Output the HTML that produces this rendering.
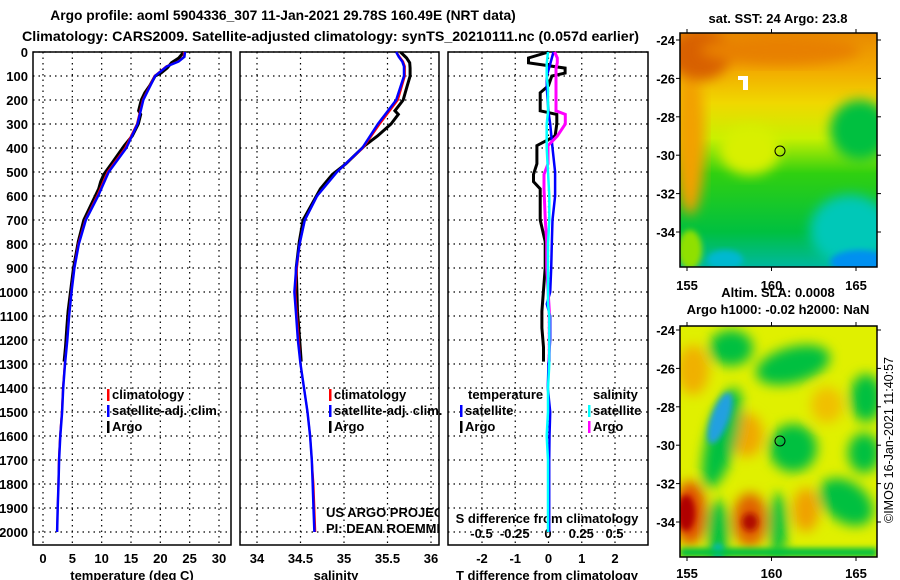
<!DOCTYPE html>
<html><head><meta charset="utf-8"><style>
body{margin:0;background:#fff;}
svg{display:block;font-family:"Liberation Sans",sans-serif;}
.b{font-weight:bold;font-size:13.8px;}
.t{font-weight:bold;font-size:13px;}
</style></head><body>
<svg id="s" width="900" height="580" viewBox="0 0 900 580">
<defs>
<filter id="blur" x="-20%" y="-20%" width="140%" height="140%"><feGaussianBlur stdDeviation="6"/></filter>
<filter id="blur2" x="-20%" y="-20%" width="140%" height="140%"><feGaussianBlur stdDeviation="3"/></filter>
<clipPath id="c1"><rect x="680" y="33" width="197" height="234"/></clipPath>
<clipPath id="c2"><rect x="680" y="326" width="197" height="231"/></clipPath>
<clipPath id="cp2"><rect x="240" y="52" width="199" height="493"/></clipPath>
<linearGradient id="sstg" x1="0" y1="0" x2="0" y2="1">
<stop offset="0" stop-color="#e88a00"/><stop offset="0.15" stop-color="#f2a800"/><stop offset="0.3" stop-color="#f0d800"/><stop offset="0.45" stop-color="#c8f000"/><stop offset="0.6" stop-color="#30d010"/><stop offset="0.85" stop-color="#00c040"/><stop offset="1" stop-color="#00b8a0"/>
</linearGradient>
</defs>
<text class="b" x="283" y="20" text-anchor="middle">Argo profile: aoml 5904336_307 11-Jan-2021 29.78S 160.49E (NRT data)</text>
<text class="b" x="22" y="41" textLength="617" lengthAdjust="spacingAndGlyphs">Climatology: CARS2009. Satellite-adjusted climatology: synTS_20210111.nc (0.057d earlier)</text>
<g id="plots"></g>

<!-- SST map -->
<g clip-path="url(#c1)">
<rect x="680" y="33" width="197" height="234" fill="url(#sstg)"/>
<ellipse cx="690" cy="140" rx="15" ry="75" fill="#f2a000" filter="url(#blur)"/>
<ellipse cx="700" cy="55" rx="30" ry="25" fill="#d86000" filter="url(#blur)"/>
<ellipse cx="780" cy="50" rx="80" ry="15" fill="#e88000" filter="url(#blur)"/>
<ellipse cx="750" cy="150" rx="30" ry="25" fill="#d8f000" filter="url(#blur)"/>
<ellipse cx="860" cy="130" rx="30" ry="30" fill="#00c040" filter="url(#blur)"/>
<ellipse cx="850" cy="230" rx="40" ry="35" fill="#00c8b8" filter="url(#blur)"/>
<ellipse cx="860" cy="262" rx="30" ry="12" fill="#0090f0" filter="url(#blur2)"/>
<ellipse cx="725" cy="260" rx="18" ry="10" fill="#00b8d0" filter="url(#blur2)"/>
<ellipse cx="690" cy="250" rx="12" ry="20" fill="#90e000" filter="url(#blur2)"/>
<rect x="738" y="76" width="10" height="4" fill="#fff"/><rect x="743" y="76" width="5" height="14" fill="#fff"/>
</g>
<rect x="680" y="33" width="197" height="234" fill="none" stroke="#000" stroke-width="1.5"/>
<circle cx="780" cy="151" r="5" fill="none" stroke="#000"/>
<text class="t" x="778" y="23" text-anchor="middle">sat. SST: 24 Argo: 23.8</text>

<!-- SLA map -->
<g clip-path="url(#c2)">
<rect x="680" y="326" width="197" height="231" fill="#e0f000"/>
<g filter="url(#blur)">
<ellipse cx="693" cy="370" rx="16" ry="25" fill="#f0b000"/>
<ellipse cx="827" cy="405" rx="16" ry="18" fill="#f0c000"/>
<ellipse cx="747" cy="435" rx="16" ry="22" fill="#f0a800"/>
<ellipse cx="731" cy="348" rx="22" ry="18" fill="#00c040"/>
<ellipse cx="793" cy="365" rx="38" ry="18" fill="#00c040" transform="rotate(-15 793 365)"/>
<ellipse cx="866" cy="398" rx="16" ry="24" fill="#00c040"/>
<ellipse cx="722" cy="438" rx="15" ry="52" fill="#00c040" transform="rotate(15 722 438)"/>
<ellipse cx="793" cy="448" rx="24" ry="24" fill="#00c040"/>
<ellipse cx="864" cy="453" rx="16" ry="20" fill="#00c040"/>
<ellipse cx="846" cy="502" rx="30" ry="20" fill="#00c040" transform="rotate(35 846 502)"/>
<ellipse cx="718" cy="530" rx="11" ry="30" fill="#00c040"/>
<ellipse cx="778" cy="525" rx="9" ry="32" fill="#00c040"/>
<ellipse cx="690" cy="513" rx="16" ry="32" fill="#e05000"/>
<ellipse cx="750" cy="520" rx="17" ry="27" fill="#e06000"/>
<ellipse cx="806" cy="510" rx="13" ry="22" fill="#f0a000"/>
</g>
<g filter="url(#blur2)">
<ellipse cx="720" cy="418" rx="9" ry="27" fill="#20a0e0" transform="rotate(20 720 418)"/>
<ellipse cx="686" cy="513" rx="9" ry="18" fill="#b00000"/>
<ellipse cx="750" cy="522" rx="8" ry="9" fill="#b01000"/>
<ellipse cx="718" cy="552" rx="6" ry="8" fill="#10b0e0"/>
<rect x="680" y="548" width="197" height="9" fill="#00c040"/>
</g>
</g>
<rect x="680" y="326" width="197" height="231" fill="none" stroke="#000" stroke-width="1.5"/>
<circle cx="780" cy="441" r="5" fill="none" stroke="#000"/>
<text class="t" x="778" y="297" text-anchor="middle">Altim. SLA: 0.0008</text>
<text class="t" x="778" y="314" text-anchor="middle">Argo h1000: -0.02 h2000: NaN</text>
<text x="893" y="440" font-size="12.5" text-anchor="middle" transform="rotate(-90 893 440)">©IMOS 16-Jan-2021 11:40:57</text>
<g id="maps"></g>
</svg>
<script>
const NS='http://www.w3.org/2000/svg';
const svg=document.getElementById('s');
const G=document.getElementById('plots');
function mk(tag,attrs,parent){const e=document.createElementNS(NS,tag);for(const k in attrs)e.setAttribute(k,attrs[k]);(parent||G).appendChild(e);return e;}

// ---- data ----
const depthTicks=[0,100,200,300,400,500,600,700,800,900,1000,1100,1200,1300,1400,1500,1600,1700,1800,1900,2000];
const tempTicks=[0,5,10,15,20,25,30];
const salTicks=[34,34.5,35,35.5,36];
const tdiffTicks=[-2,-1,0,1,2];
const sdiffTicks=[-0.5,-0.25,0,0.25,0.5];
const climDepth=[0,20,40,60,100,200,300,400,500,600,700,800,900,1000,1100,1200,1300,1400,1500,1600,1700,1800,1900,2000];
const climTemp=[24,24,23,21,19,17,16,14,11,9.2,7.2,6,5.3,4.8,4.4,4.1,3.7,3.4,3.2,2.9,2.7,2.6,2.5,2.4];
const satTemp=[24.2,24.1,23.1,21.1,19.1,17.1,16.1,14.2,11.2,9.4,7.3,6.1,5.35,4.85,4.45,4.15,3.75,3.45,3.25,2.95,2.75,2.65,2.5,2.4];
const climSal=[35.6,35.64,35.68,35.7,35.7,35.62,35.41,35.22,34.92,34.69,34.55,34.49,34.46,34.44,34.46,34.48,34.5,34.54,34.58,34.61,34.63,34.65,34.66,34.67];
const satSal=[35.6,35.63,35.67,35.69,35.69,35.6,35.39,35.21,34.92,34.69,34.55,34.49,34.45,34.43,34.45,34.47,34.5,34.54,34.58,34.61,34.63,34.64,34.65,34.66];
const argoDepth=[0,25,45,67,88,100,140,170,200,245,260,300,350,390,466,510,540,570,700,790,900,1080,1150,1230,1290];
const argoTdiff=[0,-0.6,-0.6,0.5,0.5,0.1,0,-0.25,-0.25,-0.25,0.25,0.25,0.2,-0.35,-0.35,-0.45,-0.45,-0.25,-0.25,-0.1,-0.1,-0.2,-0.2,-0.15,-0.15];
const argoSdiff=[0.05,0.07,0.07,0.06,0.06,0.06,0.06,0.06,0.06,0.06,0.13,0.13,0.07,0,0,-0.03,-0.03,-0.03,-0.02,-0.01,-0.01,0.01,0.01,0.01,0.01];
const satTdiffDepth=[0,50,100,150,250,300,400,500,600,700,800,900,1000,1050,1100,1200,1300,1400,1500,1600,1700,1800,1900,2000];
const satTdiff=[0.15,0.05,-0.05,-0.05,0,0.05,0.12,0.2,0.2,0.12,0.1,0.08,0.05,-0.05,0.05,0.05,0,-0.02,0.05,0.03,0.02,0.02,0.02,0.02];
const satSdiff=[0,-0.01,-0.01,0,0,-0.01,-0.01,0,0.01,0.01,0,0,0,0,0.01,0.01,0.01,0,0,-0.01,0,0,0,0];

// ---- axes ----
const yTop=52,yBot=545;
const yD=d=>yTop+d*0.24;
const P1={x0:33,x1:231,v0:0,v1:30,a:43,b:219};
const P2={x0:240,x1:439,v0:34,v1:36,a:257,b:431};
const P3={x0:448,x1:648,v0:-2,v1:2,a:482,b:615};
const sx=(P,v)=>P.a+(v-P.v0)/(P.v1-P.v0)*(P.b-P.a);
const xT=v=>sx(P1,v), xS=v=>sx(P2,v), xTd=v=>sx(P3,v), xSd=v=>548+v*133;

function poly(xs,ys,fx,color,w,name,clip){
  const pts=xs.map((v,i)=>fx(v).toFixed(1)+','+yD(ys[i]).toFixed(1)).join(' ');
  const e=mk('polyline',{points:pts,fill:'none',stroke:color,'stroke-width':w});
  if(clip)e.setAttribute('clip-path',clip);
  
  
}
function txt(x,y,s,cls,anchor,name){const e=mk('text',{x:x,y:y,class:cls||'t','text-anchor':anchor||'start'});e.textContent=s;return e;}

function panel(P,ticks,fx,name){
  for(const d of depthTicks){const g=mk('line',{x1:P.x0,x2:P.x1,y1:yD(d),y2:yD(d),stroke:'#000','stroke-dasharray':'1.5 4','stroke-width':1.2});}
  for(const v of ticks){const g=mk('line',{x1:fx(v),x2:fx(v),y1:yTop,y2:yBot,stroke:'#000','stroke-dasharray':'1.5 4','stroke-width':1.2});}
  const f=mk('rect',{x:P.x0,y:yTop,width:P.x1-P.x0,height:yBot-yTop,fill:'none',stroke:'#000','stroke-width':1.5});
  
  
}
panel(P1,tempTicks,xT,'temperature-panel');
panel(P2,salTicks,xS,'salinity-panel');
panel(P3,tdiffTicks,xTd,'difference-panel');

for(const d of depthTicks) txt(28,yD(d)+5,String(d),'t','end','depth-tick-label');
for(const v of tempTicks) txt(xT(v),563,String(v),'t','middle','temp-tick-label');
for(const v of salTicks) txt(xS(v),563,String(v),'t','middle','salinity-tick-label');
for(const v of tdiffTicks) txt(xTd(v),563,String(v),'t','middle','tdiff-tick-label');
for(const v of sdiffTicks) txt(xSd(v),538,String(v),'t','middle','sdiff-tick-label');
txt(132,580,'temperature (deg C)','t','middle','temperature-axis-title');
txt(336,580,'salinity','t','middle','salinity-axis-title');
txt(547,580,'T difference from climatology','t','middle','tdiff-axis-title');
txt(547,523,'S difference from climatology','t','middle','sdiff-axis-title');

// ---- series ----
const argoTemp=argoDepth.map((d,i)=>{let j=0;while(j<climDepth.length-1&&climDepth[j+1]<d)j++;const f=(d-climDepth[j])/(climDepth[j+1]-climDepth[j]);return climTemp[j]+f*(climTemp[j+1]-climTemp[j])+argoTdiff[i];});
const argoSal=argoDepth.map((d,i)=>{let j=0;while(j<climDepth.length-1&&climDepth[j+1]<d)j++;const f=(d-climDepth[j])/(climDepth[j+1]-climDepth[j]);return climSal[j]+f*(climSal[j+1]-climSal[j])+argoSdiff[i];});
poly(argoTemp,argoDepth,xT,'#000',3,'argo-temperature-line');
poly(climTemp,climDepth,xT,'#f00',2,'climatology-temperature-line');
poly(satTemp,climDepth,xT,'#00f',2.5,'satellite-temperature-line');
poly(argoSal,argoDepth,xS,'#000',3,'argo-salinity-line','url(#cp2)');
poly(climSal,climDepth,xS,'#f00',2,'climatology-salinity-line');
poly(satSal,climDepth,xS,'#00f',2.5,'satellite-salinity-line');
poly(argoTdiff,argoDepth,xTd,'#000',3,'argo-tdiff-line');
poly(satTdiff,satTdiffDepth,xTd,'#00f',2.5,'satellite-tdiff-line');
poly(argoSdiff,argoDepth,xSd,'#f0f',3,'argo-sdiff-line');
poly(satSdiff,satTdiffDepth,xSd,'#0ff',2.5,'satellite-sdiff-line');

// ---- legends ----
function leg(x,y,color,label,name){const m=mk('rect',{x:x,y:y-10,width:2.5,height:12,fill:color});txt(x+5,y,label,'t','start',name);}
leg(107,399,'#f00','climatology','legend-climatology');
leg(107,415,'#00f','satellite-adj. clim.','legend-satellite-adj');
leg(107,431,'#000','Argo','legend-argo');
leg(329,399,'#f00','climatology','legend-climatology-2');
leg(329,415,'#00f','satellite-adj. clim.','legend-satellite-adj-2');
leg(329,431,'#000','Argo','legend-argo-2');
txt(468,399,'temperature','t','start','legend-temperature-heading');
leg(460,415,'#00f','satellite','legend-t-satellite');
leg(460,431,'#000','Argo','legend-t-argo');
txt(593,399,'salinity','t','start','legend-salinity-heading');
leg(588,415,'#0ff','satellite','legend-s-satellite');
leg(588,431,'#f0f','Argo','legend-s-argo');
const c1=txt(326,517,'US ARGO PROJECT','','start','credit-project');c1.setAttribute('font-size','12.5');c1.setAttribute('clip-path','url(#cp2)');
const c2=txt(326,533,'PI: DEAN ROEMMICH','','start','credit-pi');c2.setAttribute('font-size','12.5');c2.setAttribute('clip-path','url(#cp2)');

// ---- map axes ----
const M=document.getElementById('maps');
const lonTicks=[155,160,165];
const latTicks=[-24,-26,-28,-30,-32,-34];
const lonX=l=>687+(l-155)*16.9;
function mapAxes(top,bot,lat0y,labY){
  for(const l of lonTicks){const e=mk('line',{x1:lonX(l),x2:lonX(l),y1:top-4,y2:top,stroke:'#000'},M);
    const e2=mk('line',{x1:lonX(l),x2:lonX(l),y1:bot,y2:bot+4,stroke:'#000'},M);
    const t=mk('text',{x:lonX(l),y:labY,class:'t','text-anchor':'middle'},M);t.textContent=String(l);}
  for(const la of latTicks){const y=lat0y+(-24-la)*19.2;
    const e=mk('line',{x1:877,x2:881,y1:y,y2:y,stroke:'#000'},M);
    const e3=mk('line',{x1:676,x2:680,y1:y,y2:y,stroke:'#000'},M);
    const t=mk('text',{x:675,y:y+5,class:'t','text-anchor':'end'},M);t.textContent=String(la);}
}
mapAxes(33,267,40,290);
mapAxes(326,557,330,578);
</script>
</body></html>
